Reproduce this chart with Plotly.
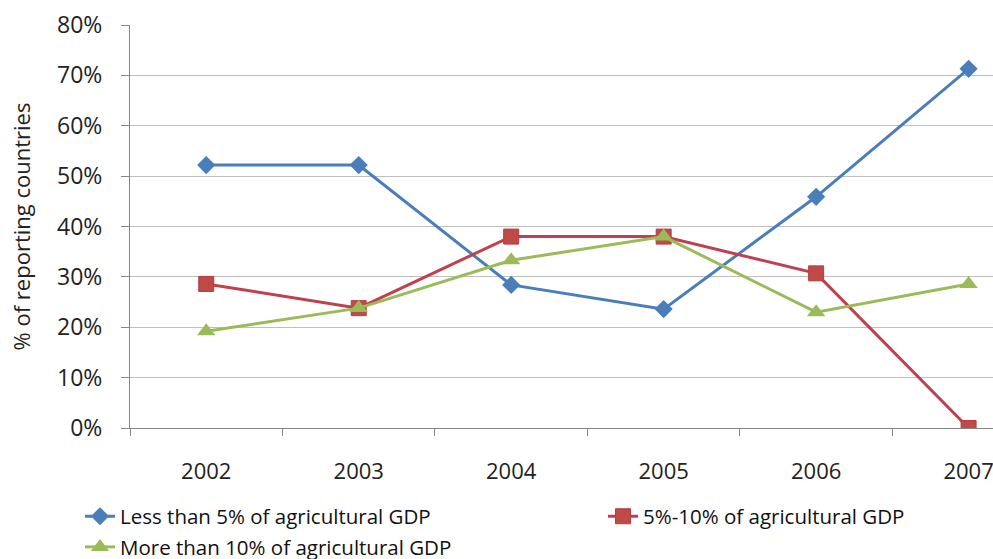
import plotly.graph_objects as go

years = ["2002", "2003", "2004", "2005", "2006", "2007"]
less_5 = [0.522, 0.522, 0.284, 0.236, 0.459, 0.713]
mid_5_10 = [0.286, 0.238, 0.380, 0.380, 0.307, 0.0]
more_10 = [0.192, 0.238, 0.333, 0.380, 0.230, 0.286]
y_ticks = [0, 0.1, 0.2, 0.3, 0.4, 0.5, 0.6, 0.7, 0.8]

names = ["Less than 5% of agricultural GDP",
         "5%-10% of agricultural GDP",
         "More than 10% of agricultural GDP"]

FONT = "Open Sans"

fig = go.Figure()
fig.add_trace(go.Scatter(
    x=years, y=less_5, name=names[0], mode="lines+markers",
    legend="legend", legendgroup="a",
    line=dict(color="#4A7EBB", width=3),
    marker=dict(symbol="diamond", size=14, color="#4A7EBB")))
fig.add_trace(go.Scatter(
    x=years, y=mid_5_10, name=names[1], mode="lines+markers",
    legend="legend2", legendgroup="b",
    line=dict(color="#C0404D", width=3),
    marker=dict(symbol="square", size=15, color="#BE4B48",
                line=dict(color="#B83A45", width=1))))
fig.add_trace(go.Scatter(
    x=years, y=more_10, name=names[2], mode="lines+markers",
    legend="legend", legendgroup="c",
    line=dict(color="#9BBB59", width=3),
    marker=dict(symbol="triangle-up", size=16, color="#9BBB59")))

PL, PW, PT, PH = 130, 863, 25, 403.5


def px_x(x):
    return (x - PL) / PW


def px_y(y):
    return (PT + PH - y) / PH


legend_common = dict(xanchor="left", yanchor="top",
                     orientation="v", itemwidth=30, tracegroupgap=1,
                     bgcolor="rgba(0,0,0,0)",
                     font=dict(family=FONT, size=20.5, color="#111111"))

fig.update_layout(
    width=993, height=559,
    margin=dict(l=130, r=0, t=25, b=130.5, autoexpand=False),
    paper_bgcolor="white", plot_bgcolor="white",
    font=dict(family=FONT, size=20, color="#222222"),
    showlegend=True,
    legend=dict(x=px_x(80), y=px_y(497), **legend_common),
    legend2=dict(x=px_x(603), y=px_y(497), **legend_common),
    xaxis=dict(type="category", range=[-0.5, 5.16],
               showline=True, linecolor="#868686", linewidth=1,
               ticks="outside", tickson="boundaries", ticklen=7, tickcolor="#868686",
               showgrid=False, zeroline=False, tickangle=0,
               tickfont=dict(family=FONT, size=22, color="#222222"),
               ticklabelstandoff=24),
    yaxis=dict(range=[0, 0.8], tickvals=y_ticks, tickformat=".0%",
               showline=True, linecolor="#868686", linewidth=1,
               ticks="outside", ticklen=8, tickcolor="#868686",
               showgrid=True, gridcolor="#BFBFBF", gridwidth=1, zeroline=False,
               tickfont=dict(family=FONT, size=23, color="#222222"),
               ticklabelstandoff=14,
               title=dict(text="% of reporting countries",
                          font=dict(family=FONT, size=22, color="#222222"),
                          standoff=20)),
)

fig.write_html("out.html")
